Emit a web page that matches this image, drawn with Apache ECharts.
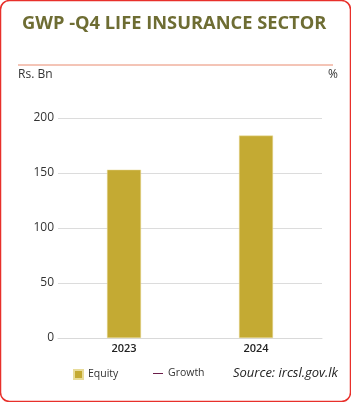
<!DOCTYPE html>
<html>
<head>
<meta charset="utf-8">
<script src="https://cdn.jsdelivr.net/npm/echarts@6/dist/echarts.min.js"></script>
<style>
  html, body { margin: 0; padding: 0; background: #fff; }
  #main { width: 351px; height: 402px; }
</style>
</head>
<body>
<div id="main"></div>
<script>
// data
var years = ['2023', '2024'];
var equity = [153, 184];
var growth = [];
var yTicks = [0, 50, 100, 150, 200];

var myChart = echarts.init(document.getElementById('main'));
var option = {
    animation: false,
    textStyle: { fontFamily: 'Open Sans' },
    title: {
        text: 'GWP -Q4 LIFE INSURANCE SECTOR',
        left: 17,
        top: 10,
        textStyle: { color: '#6e6d33', fontSize: 18.3, fontWeight: 'bold', fontFamily: 'Open Sans' }
    },
    graphic: [
        {
            type: 'rect',
            shape: { x: 0.5, y: 0.5, width: 350, height: 401, r: 9 },
            style: { fill: 'none', stroke: '#e8302b', lineWidth: 1.5 },
            silent: true
        },
        {
            type: 'line',
            shape: { x1: 18, y1: 65, x2: 333, y2: 65 },
            style: { stroke: '#e98a6e', lineWidth: 1 }
        },
        {
            type: 'text',
            left: 18, top: 69,
            style: { text: 'Rs. Bn', fill: '#333', font: '12px "Open Sans"' }
        },
        {
            type: 'text',
            left: 328, top: 69,
            style: { text: '%', fill: '#333', font: '12px "Open Sans"' }
        },
        {
            type: 'text',
            left: 233, top: 367,
            style: { text: 'Source: ircsl.gov.lk', fill: '#222', font: 'italic 13px "Open Sans"' }
        }
    ],
    legend: [
        {
            data: ['Equity'],
            left: 68, top: 364,
            icon: 'rect',
            itemWidth: 9, itemHeight: 9,
            itemGap: 6,
            textStyle: { fontSize: 10.5, color: '#333' }
        },
        {
            data: ['Growth'],
            left: 148, top: 363,
            icon: 'rect',
            itemWidth: 10, itemHeight: 1,
            itemGap: 5,
            textStyle: { fontSize: 10.5, color: '#333' }
        }
    ],
    grid: { left: 58, right: 29, top: 118, bottom: 64 },
    xAxis: {
        type: 'category',
        data: years,
        axisTick: { show: false },
        axisLine: { lineStyle: { color: '#d9d9d9' } },
        axisLabel: { color: '#222', fontSize: 11, fontWeight: 600, margin: 5 }
    },
    yAxis: [
        {
            type: 'value',
            min: yTicks[0],
            max: yTicks[yTicks.length - 1],
            interval: 50,
            axisLine: { show: false },
            axisTick: { show: false },
            axisLabel: { color: '#333', fontSize: 12, margin: 4 },
            splitLine: { lineStyle: { color: '#dcdcdc' } }
        },
        {
            type: 'value',
            show: false
        }
    ],
    series: [
        {
            name: 'Equity',
            type: 'bar',
            data: equity,
            barWidth: 34,
            itemStyle: { color: '#c4aa33', borderColor: '#e8dc9a', borderWidth: 0.5 }
        },
        {
            name: 'Growth',
            type: 'line',
            yAxisIndex: 1,
            data: growth,
            itemStyle: { color: '#6b1d4a' },
            lineStyle: { color: '#6b1d4a' }
        }
    ]
};
myChart.setOption(option);
</script>
</body>
</html>
